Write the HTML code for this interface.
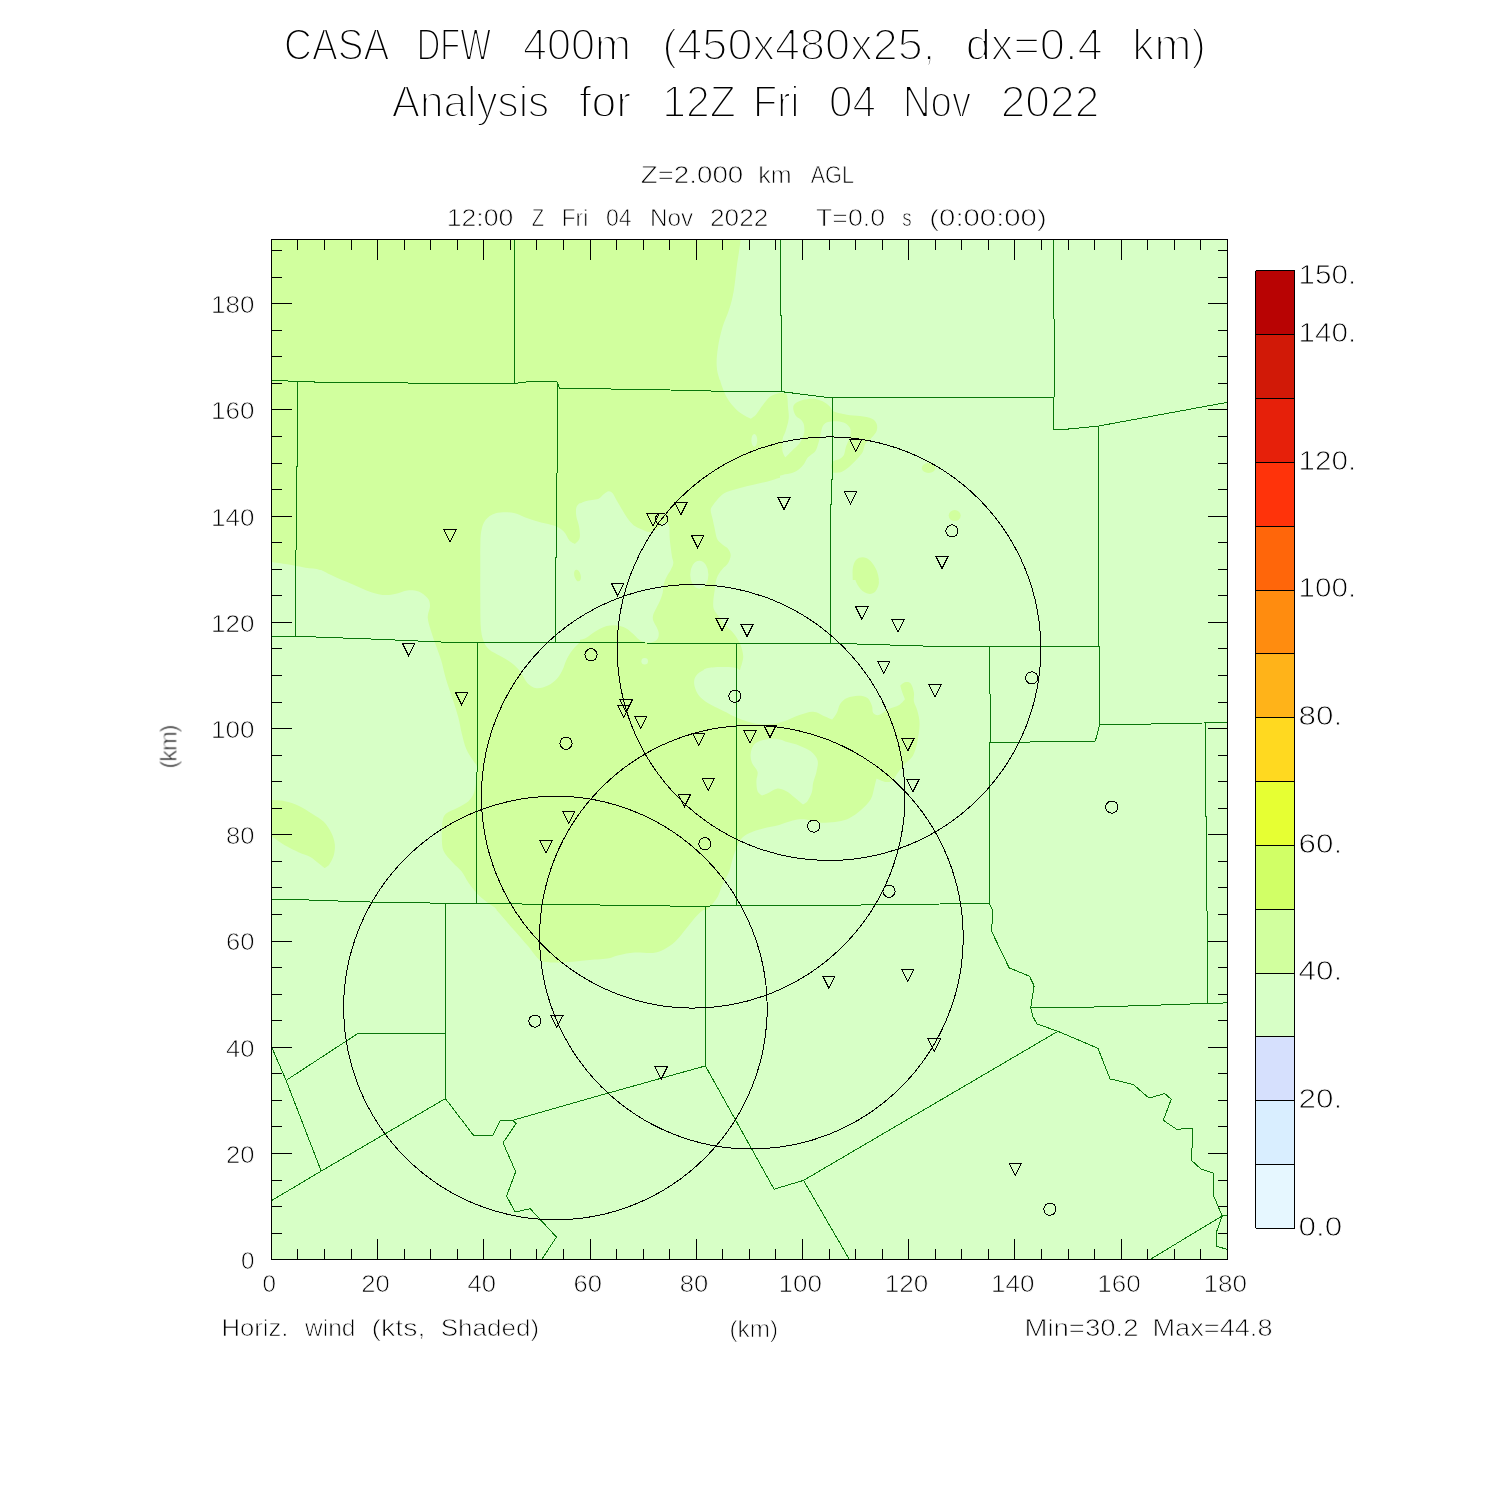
<!DOCTYPE html>
<html lang="en">
<head>
<meta charset="utf-8">
<title>CASA DFW 400m - Horiz. wind analysis</title>
<style>
html,body{margin:0;padding:0;background:#fff;}
body{width:1500px;height:1500px;overflow:hidden;}
svg{display:block;}
svg text{font-family:'Liberation Sans', Arial, Helvetica, sans-serif;fill:#000;stroke:#fff;}
.t1{stroke-width:1.9px;}
.t2{stroke-width:0.75px;}
.t3{stroke-width:0.85px;}
</style>
</head>
<body>
<svg width="1500" height="1500" viewBox="0 0 1500 1500">
<defs>
<clipPath id="c1"><rect x="271" y="239" width="329" height="331"/></clipPath>
<clipPath id="c2"><rect x="600" y="239" width="340" height="331"/></clipPath>
<clipPath id="c3"><rect x="271" y="570" width="329" height="340"/></clipPath>
<clipPath id="c4"><rect x="600" y="570" width="340" height="340"/></clipPath>
<clipPath id="c5"><rect x="460" y="910" width="340" height="120"/></clipPath>
<clipPath id="c6"><rect x="700" y="380" width="200" height="200"/></clipPath>
<clipPath id="c7"><rect x="580" y="470" width="200" height="200"/></clipPath>
<clipPath id="plot"><rect x="271.5" y="239.5" width="956.0" height="1019.8"/></clipPath>
</defs>
<rect width="1500" height="1500" fill="#fff"/>
<rect x="271.5" y="239.5" width="956.0" height="1019.8" fill="#D7FFC6"/>
<g clip-path="url(#plot)">
<g clip-path="url(#c1)">
<rect x="271" y="239" width="329" height="331" fill="#D1FF9E"/>
<path d="M266.8,561.4C266.8,561.4 269.7,561.8 271.6,562.0C275.0,562.5 281.6,563.4 287.2,564.3C292.8,565.3 299.7,566.7 305.3,567.7C311.0,568.8 317.4,568.0 321.2,570.7C325.0,573.3 328.0,583.6 328.0,583.6C328.0,583.6 266.8,583.6 266.8,583.6C266.8,583.6 266.8,561.4 266.8,561.4Z" fill="#D7FFC6"/>
<path d="M480.3,583.6C480.3,583.6 480.3,575.4 480.3,570.0C480.3,563.9 480.2,553.7 480.3,547.3C480.5,541.0 480.3,536.0 481.2,531.5C482.1,526.9 483.1,523.1 485.5,520.1C487.9,517.1 491.0,514.5 495.7,513.3C500.4,512.1 508.6,512.0 513.9,512.9C519.1,513.7 522.9,516.7 527.5,518.3C532.0,519.9 536.5,521.1 541.1,522.4C545.6,523.6 550.9,524.3 554.7,525.8C558.4,527.3 561.3,529.0 563.7,531.5C566.2,533.9 567.5,538.4 569.4,540.5C571.2,542.5 575.0,543.9 575.0,543.9C575.0,543.9 578.9,541.1 579.6,538.3C580.3,535.4 579.7,530.7 579.1,526.9C578.6,523.1 576.5,519.2 576.2,515.6C575.9,512.0 575.6,507.8 577.3,505.4C579.0,502.9 582.4,501.7 586.4,500.9C592.4,499.5 613.6,497.5 613.6,497.5C613.6,497.5 613.6,583.6 613.6,583.6C613.6,583.6 480.3,583.6 480.3,583.6Z" fill="#D7FFC6"/>
</g>
<g clip-path="url(#c2)">
<rect x="600" y="239" width="340" height="331" fill="#D7FFC6"/>
<path d="M588.7,218.7C588.7,218.7 740.5,218.7 740.5,218.7C740.5,218.7 741.1,232.0 740.5,239.5C740.0,247.1 738.3,255.4 737.1,264.0C736.0,272.6 735.0,283.6 733.7,291.2C732.4,298.6 731.1,303.3 729.2,309.3C727.3,315.4 724.3,321.0 722.4,327.5C720.5,333.9 718.8,341.4 717.9,347.9C716.9,354.3 716.4,360.6 716.7,366.0C717.0,371.4 718.0,374.5 719.7,380.0C721.4,385.7 726.9,400.0 726.9,400.0C726.9,400.0 726.9,583.6 726.9,583.6C726.9,583.6 588.7,583.6 588.7,583.6C588.7,583.6 588.7,218.7 588.7,218.7Z" fill="#D1FF9E"/>
<ellipse cx="928.6" cy="468.0" rx="6.8" ry="5.0" fill="#D1FF9E"/>
</g>
<g clip-path="url(#c3)">
<rect x="271" y="570" width="329" height="340" fill="#D7FFC6"/>
<path d="M321.2,558.7C321.2,558.7 321.2,570.0 321.2,570.0C321.2,570.0 329.9,574.5 334.8,576.8C339.7,579.1 345.4,581.3 350.7,583.6C356.0,585.9 361.2,588.5 366.5,590.4C371.8,592.3 377.5,594.4 382.4,594.9C387.3,595.5 391.8,594.6 396.0,593.8C400.1,593.0 403.5,590.8 407.3,590.4C411.1,590.0 415.3,590.2 418.7,591.5C422.1,592.9 425.8,595.9 427.7,598.3C429.6,600.8 430.0,603.1 430.0,606.3C430.0,609.5 427.5,613.4 427.7,617.6C427.9,621.8 429.8,626.7 431.1,631.2C432.4,635.7 434.0,639.9 435.7,644.8C437.4,649.7 439.6,655.0 441.3,660.7C443.0,666.3 444.0,672.4 445.9,678.8C447.7,685.2 450.6,692.8 452.7,699.2C454.7,705.6 456.8,711.7 458.3,717.3C459.8,723.0 460.4,727.9 461.7,733.2C463.0,738.5 464.4,744.5 466.3,749.1C468.1,753.6 471.2,757.4 473.1,760.4C474.7,763.1 476.6,764.2 477.1,767.2C477.7,770.2 476.9,774.4 476.5,778.5C476.0,782.7 475.5,788.3 474.2,792.1C472.9,795.9 471.4,798.5 468.5,801.2C465.7,803.8 461.0,805.9 457.2,808.0C453.4,810.1 448.3,811.4 445.9,813.7C443.4,815.9 443.0,818.2 442.5,821.6C441.8,825.6 441.6,832.5 441.8,837.5C442.0,842.4 441.8,846.9 443.6,851.1C445.4,855.2 449.6,859.0 452.7,862.4C455.7,865.8 459.1,868.1 461.7,871.5C464.4,874.9 465.9,879.0 468.5,882.8C471.2,886.6 474.6,890.9 477.6,894.1C480.6,897.3 483.4,899.4 486.7,902.0C489.9,904.7 494.6,906.4 496.9,910.0C499.1,913.6 500.3,923.6 500.3,923.6C500.3,923.6 613.6,923.6 613.6,923.6C613.6,923.6 613.6,626.7 613.6,626.7C613.6,626.7 604.5,627.7 600.0,629.4C595.4,631.1 590.5,633.9 586.4,636.9C582.2,639.8 578.3,643.5 575.0,647.1C571.8,650.7 569.2,654.6 567.1,658.4C565.0,662.2 564.3,666.3 562.6,669.7C560.9,673.1 559.4,676.1 556.9,678.8C554.5,681.4 551.3,684.0 547.9,685.6C544.5,687.2 539.9,688.7 536.5,688.3C533.1,687.9 530.1,686.0 527.5,683.3C524.8,680.6 523.3,675.4 520.7,672.0C518.0,668.6 515.0,665.6 511.6,662.9C508.2,660.3 504.0,658.4 500.3,656.1C496.5,653.9 491.8,652.0 488.9,649.3C486.1,646.7 484.6,644.0 483.3,640.3C481.9,636.5 481.1,632.2 480.8,626.7C480.3,619.5 480.4,606.6 480.3,597.2C480.2,587.8 480.3,576.4 480.3,570.0C480.3,565.5 480.3,558.7 480.3,558.7C480.3,558.7 321.2,558.7 321.2,558.7Z" fill="#D1FF9E"/>
<path d="M266.8,799.4C266.8,799.4 269.6,799.9 271.6,800.1C274.6,800.4 280.4,800.2 284.9,801.2C289.4,802.1 294.0,803.6 298.5,805.7C303.1,807.8 308.0,811.0 312.1,813.7C316.3,816.3 320.3,818.4 323.5,821.6C326.7,824.8 329.5,829.1 331.4,832.9C333.3,836.7 334.4,840.5 334.8,844.3C335.2,848.0 334.6,852.2 333.7,855.6C332.7,859.0 330.6,862.6 329.1,864.7C327.8,866.5 324.6,868.1 324.6,868.1C324.6,868.1 321.2,865.3 318.9,863.5C316.5,861.6 313.3,858.6 309.9,856.7C306.5,854.8 302.3,853.9 298.5,852.2C294.8,850.5 290.6,848.4 287.2,846.5C283.8,844.6 280.7,842.6 278.1,840.9C275.5,839.2 273.4,837.3 271.6,836.3C269.8,835.4 266.8,835.2 266.8,835.2C266.8,835.2 266.8,799.4 266.8,799.4Z" fill="#D1FF9E"/>
</g>
<g clip-path="url(#c4)">
<rect x="600" y="570" width="340" height="340" fill="#D7FFC6"/>
<path d="M588.7,625.5C588.7,625.5 595.8,625.7 600.0,625.5C604.2,625.3 609.4,623.8 613.6,624.4C617.8,625.0 621.5,626.7 624.9,628.9C628.3,631.2 630.6,635.7 634.0,638.0C637.4,640.3 641.7,642.5 645.3,642.5C648.9,642.5 653.3,639.9 655.5,638.0C657.8,636.1 659.1,634.2 658.9,631.2C658.7,628.2 655.3,623.3 654.4,619.9C653.5,616.5 652.3,614.2 653.3,610.8C654.2,607.4 658.4,604.0 660.1,599.5C661.8,594.9 662.1,587.8 663.5,583.6C664.7,579.7 666.6,578.3 668.0,574.5C669.5,570.4 672.5,558.7 672.5,558.7C672.5,558.7 690.7,558.7 690.7,558.7C690.7,558.7 690.7,574.0 691.8,579.1C692.8,583.6 697.5,589.3 697.5,589.3C697.5,589.3 703.3,587.9 705.4,585.9C707.5,583.8 709.1,580.8 709.9,576.8C710.9,572.3 711.1,558.7 711.1,558.7C711.1,558.7 717.9,558.7 717.9,558.7C717.9,558.7 715.2,580.6 714.5,588.1C713.8,594.5 712.8,599.5 713.3,604.0C713.9,608.5 715.8,611.7 717.9,615.3C719.9,618.9 723.1,622.5 725.8,625.5C728.4,628.6 731.3,630.3 733.7,633.5C736.2,636.7 738.9,641.0 740.5,644.8C742.1,648.6 743.2,652.7 743.2,656.1C743.2,659.5 741.7,662.9 740.5,665.2C739.3,667.5 738.3,669.3 736.0,669.7C733.7,670.2 730.3,668.3 726.9,667.9C723.5,667.5 719.4,667.2 715.6,667.5C711.8,667.8 707.5,668.4 704.3,669.7C701.1,671.1 698.0,673.1 696.3,675.4C694.6,677.7 693.9,680.3 694.1,683.3C694.3,686.3 695.6,690.5 697.5,693.5C699.4,696.5 702.0,699.0 705.4,701.5C708.8,703.9 713.9,706.2 717.9,708.3C721.8,710.3 726.2,712.4 729.2,713.9C731.9,715.3 733.2,716.2 736.0,717.3C739.0,718.6 743.5,720.3 747.3,721.4C751.1,722.5 754.5,723.7 758.7,724.1C762.8,724.6 767.7,724.7 772.3,724.1C776.8,723.6 781.3,722.2 785.9,720.7C790.4,719.2 794.9,716.6 799.5,715.1C804.0,713.5 808.9,711.5 813.1,711.7C817.2,711.8 821.2,714.9 824.4,716.2C827.6,717.5 832.3,719.6 832.3,719.6C832.3,719.6 835.5,715.4 836.9,712.8C838.2,710.1 838.6,706.2 840.3,703.7C842.0,701.3 844.0,699.4 847.1,698.1C850.1,696.7 855.0,695.8 858.4,695.8C861.8,695.8 865.2,696.4 867.5,698.1C869.7,699.8 871.0,703.5 872.0,706.0C872.9,708.4 872.0,711.3 873.1,712.8C874.3,714.3 876.4,715.6 878.8,715.1C881.2,714.5 884.5,711.1 887.9,709.4C891.3,707.7 896.4,706.6 899.2,704.9C901.9,703.2 904.9,699.2 904.9,699.2C904.9,699.2 902.2,692.4 901.5,690.1C900.9,688.4 900.3,685.6 900.3,685.6C900.3,685.6 903.2,682.6 904.9,682.2C906.6,681.8 909.0,681.6 910.5,683.3C912.0,685.0 913.3,689.4 913.9,692.4C914.5,695.4 913.3,698.4 913.9,701.5C914.5,704.5 916.4,706.8 917.3,710.5C918.3,714.3 919.6,718.8 919.6,724.1C919.6,729.4 918.4,737.0 917.3,742.3C916.2,747.5 915.0,752.1 912.8,755.9C910.5,759.6 906.4,761.9 903.7,764.9C901.1,767.9 898.8,771.3 896.9,774.0C895.0,776.6 894.3,779.5 892.4,780.8C890.5,782.1 888.2,782.3 885.6,781.9C882.9,781.5 876.5,778.5 876.5,778.5C876.5,778.5 875.2,784.2 874.3,787.6C873.3,791.0 873.1,795.1 870.9,798.9C868.6,802.7 864.2,807.0 860.7,810.3C857.1,813.5 853.1,816.3 849.3,818.2C845.5,820.1 842.5,820.8 838.0,821.6C833.5,822.3 827.8,823.1 822.1,822.7C816.5,822.3 808.9,819.7 804.0,819.3C799.4,819.0 796.8,819.5 792.7,820.5C788.5,821.4 784.0,823.7 779.1,825.0C774.1,826.3 768.1,827.1 763.2,828.4C758.3,829.7 753.4,831.0 749.6,832.9C745.8,834.8 743.1,836.0 740.5,839.7C737.9,843.5 735.6,850.3 733.7,855.6C731.8,860.9 731.1,866.5 729.2,871.5C727.3,876.4 724.3,880.9 722.4,885.0C720.5,889.2 719.7,893.0 717.9,896.4C716.0,899.8 712.9,903.2 711.1,905.4C709.4,907.4 707.7,907.7 706.5,910.0C705.0,913.0 702.0,923.6 702.0,923.6C702.0,923.6 588.7,923.6 588.7,923.6C588.7,923.6 588.7,625.5 588.7,625.5Z" fill="#D1FF9E"/>
<path d="M750.7,753.6C751.1,750.6 752.0,746.8 754.1,744.5C756.2,742.3 759.4,740.9 763.2,740.0C767.0,739.0 772.6,738.5 776.8,738.9C780.9,739.2 784.3,741.1 788.1,742.3C791.9,743.4 795.7,744.1 799.5,745.7C803.2,747.2 807.8,748.9 810.8,751.3C813.8,753.8 816.6,757.0 817.6,760.4C818.5,763.8 817.2,767.9 816.5,771.7C815.7,775.5 813.8,779.7 813.1,783.1C812.3,786.5 812.9,789.1 811.9,792.1C811.0,795.1 808.9,799.1 807.4,801.2C806.1,803.0 802.9,804.6 802.9,804.6C802.9,804.6 797.8,800.1 794.9,797.8C792.1,795.5 788.9,792.5 785.9,791.0C782.8,789.5 779.8,788.3 776.8,788.7C773.8,789.1 770.2,792.1 767.7,793.3C765.5,794.3 762.1,795.5 762.1,795.5C762.1,795.5 758.4,793.4 757.5,791.0C756.6,788.5 756.4,784.0 756.4,780.8C756.4,777.6 758.3,774.7 757.5,771.7C756.8,768.7 753.0,765.7 751.9,762.7C750.7,759.6 750.3,756.6 750.7,753.6Z" fill="#D7FFC6"/>
<ellipse cx="644.2" cy="661.8" rx="3.4" ry="3.4" fill="#D7FFC6"/>
<path d="M852.7,565.5C852.7,565.5 853.7,575.1 855.0,579.1C856.3,583.0 858.4,586.8 860.7,589.3C862.9,591.7 866.1,593.4 868.6,593.8C871.0,594.2 873.7,593.2 875.4,591.5C877.1,589.8 878.4,586.4 878.8,583.6C879.2,580.8 878.2,577.6 877.7,574.5C877.1,571.5 875.4,565.5 875.4,565.5C875.4,565.5 852.7,565.5 852.7,565.5Z" fill="#D1FF9E"/>
</g>
<g clip-path="url(#c5)">
<rect x="460" y="910" width="340" height="120" fill="#D7FFC6"/>
<path d="M448.7,848.7C448.7,848.7 732.0,848.7 732.0,848.7C732.0,848.7 733.0,855.6 732.0,860.0C730.9,864.9 727.5,872.5 725.2,878.1C722.9,883.8 721.0,889.5 718.4,894.0C715.7,898.5 712.7,901.9 709.3,905.3C705.9,908.7 701.8,910.6 698.0,914.4C694.2,918.2 690.4,923.5 686.7,928.0C682.9,932.5 679.1,938.0 675.3,941.6C671.5,945.2 667.8,947.6 664.0,949.5C660.2,951.4 657.4,952.5 652.7,952.9C647.7,953.4 640.2,952.1 634.5,952.5C628.9,952.9 623.2,954.2 618.7,955.2C614.1,956.2 612.0,957.9 607.3,958.6C602.0,959.4 593.3,959.6 586.9,960.2C580.5,960.7 574.8,961.6 568.8,962.0C562.8,962.4 555.6,962.8 550.7,962.4C546.0,962.1 543.1,962.4 539.3,959.7C535.6,957.0 532.5,951.4 528.0,946.1C523.5,940.8 517.4,934.0 512.1,928.0C506.8,922.0 501.2,915.2 496.3,909.9C491.4,904.6 487.2,901.2 482.7,896.3C478.1,891.4 472.8,885.3 469.1,880.4C465.3,875.5 463.4,871.0 460.0,866.8C456.6,862.6 450.6,858.5 448.7,855.5C447.2,853.2 448.7,848.7 448.7,848.7Z" fill="#D1FF9E"/>
</g>
<g clip-path="url(#c6)">
<rect x="700" y="380" width="200" height="200" fill="#D7FFC6"/>
<path d="M693.3,373.3C693.3,373.3 720.0,373.3 720.0,373.3C720.0,373.3 719.3,377.4 720.0,380.0C721.1,384.0 724.0,392.4 726.7,397.3C729.3,402.2 733.1,406.3 736.0,409.3C738.8,412.2 741.6,413.8 744.0,415.3C746.4,416.9 750.7,418.7 750.7,418.7C750.7,418.7 754.2,416.6 756.0,414.7C758.0,412.4 760.4,408.2 762.7,405.3C764.9,402.4 767.1,399.2 769.3,397.3C771.6,395.4 774.0,394.8 776.0,394.0C778.0,393.2 779.6,392.6 781.3,392.7C783.1,392.8 785.7,392.6 786.7,394.7C787.8,397.0 787.7,402.7 788.0,406.7C788.3,410.7 789.1,414.4 788.7,418.7C788.2,422.9 786.3,428.7 785.3,432.0C784.5,434.8 783.1,435.8 782.7,438.7C782.2,441.8 782.0,447.6 782.4,450.7C782.8,453.6 785.3,457.3 785.3,457.3C785.3,457.3 789.6,453.1 792.0,450.7C794.4,448.2 798.0,445.6 800.0,442.7C802.0,439.8 803.3,436.2 804.0,433.3C804.7,430.4 804.4,427.6 804.0,425.3C803.6,423.1 802.7,421.6 801.3,420.0C800.0,418.4 797.3,417.8 796.0,416.0C794.7,414.2 793.6,411.3 793.3,409.3C793.1,407.3 793.1,405.6 794.7,404.0C796.2,402.4 799.6,400.9 802.7,400.0C805.8,399.1 810.0,398.4 813.3,398.7C816.7,398.9 819.9,400.0 822.7,401.3C825.4,402.7 828.2,405.0 830.0,406.7C831.7,408.2 831.3,410.3 833.3,411.3C836.1,412.7 842.2,413.9 846.7,414.7C851.1,415.4 855.8,415.3 860.0,416.0C864.2,416.7 869.2,417.3 872.0,418.7C874.6,419.9 875.9,422.0 876.7,424.0C877.4,426.0 877.4,428.4 876.7,430.7C875.9,432.9 873.9,435.1 872.0,437.3C870.1,439.6 866.9,441.6 865.3,444.0C863.8,446.4 864.0,449.6 862.7,452.0C861.3,454.4 859.6,456.2 857.3,458.7C855.1,461.1 852.0,464.4 849.3,466.7C846.7,468.9 844.0,471.0 841.3,472.0C838.7,473.0 833.3,472.7 833.3,472.7C833.3,472.7 831.3,468.6 831.3,466.7C831.3,464.8 831.9,462.7 833.3,461.3C834.8,460.0 838.2,459.8 840.0,458.7C841.8,457.6 843.0,456.7 844.0,454.7C845.0,452.7 845.1,449.3 846.0,446.7C846.9,444.0 848.6,440.9 849.3,438.7C850.1,436.6 850.6,435.1 850.7,433.3C850.8,431.6 850.9,429.7 850.0,428.0C849.1,426.3 847.4,424.4 845.3,423.3C843.2,422.2 840.2,421.6 837.3,421.3C834.4,421.1 830.3,421.3 828.0,422.0C825.8,422.6 824.4,423.9 823.3,425.3C822.2,426.8 821.9,428.7 821.3,430.7C820.8,432.7 820.7,434.7 820.0,437.3C819.3,440.0 818.2,444.2 817.3,446.7C816.5,448.9 816.2,450.2 814.7,452.0C813.1,453.8 809.8,455.3 808.0,457.3C806.2,459.3 805.6,462.0 804.0,464.0C802.4,466.0 800.7,468.1 798.7,469.6C796.7,471.1 794.7,472.2 792.0,473.1C789.3,474.0 785.6,474.2 782.7,474.9C779.8,475.7 777.8,476.4 774.7,477.6C771.6,478.8 767.6,480.7 764.0,482.0C760.4,483.3 757.3,484.3 753.3,485.3C749.3,486.3 744.4,487.1 740.0,488.0C735.6,488.9 730.0,489.3 726.7,490.7C723.5,491.9 722.2,493.8 720.0,496.0C717.8,498.2 714.9,501.8 713.3,504.0C712.0,506.0 710.9,507.1 710.7,509.3C710.4,511.6 711.3,514.4 712.0,517.3C712.7,520.2 713.8,523.3 714.7,526.7C715.6,530.0 715.8,534.4 717.3,537.3C718.9,540.2 721.9,541.8 724.0,544.0C726.1,546.2 728.9,548.2 730.0,550.7C731.1,553.1 731.2,556.0 730.7,558.7C730.1,561.3 728.4,564.2 726.7,566.7C724.9,569.1 721.8,571.1 720.0,573.3C718.2,575.6 716.9,577.6 716.0,580.0C715.1,582.4 714.7,588.0 714.7,588.0C714.7,588.0 693.3,588.0 693.3,588.0C693.3,588.0 693.3,373.3 693.3,373.3Z" fill="#D1FF9E"/>
<path d="M693.3,558.7C693.3,558.7 698.0,558.4 700.0,559.3C702.0,560.2 704.0,562.1 705.3,564.0C706.7,565.9 707.8,568.0 708.0,570.7C708.2,573.3 707.0,577.1 706.7,580.0C706.3,582.9 706.0,588.0 706.0,588.0C706.0,588.0 693.3,588.0 693.3,588.0C693.3,588.0 693.3,558.7 693.3,558.7Z" fill="#D7FFC6"/>
<ellipse cx="754.3" cy="440.3" rx="2.9" ry="6.4" fill="#D7FFC6"/>
<path d="M853.3,588.0C853.3,588.0 852.2,574.0 852.7,569.3C853.0,565.4 854.3,562.0 856.0,560.0C857.7,558.0 860.4,557.3 862.7,557.3C864.9,557.3 867.3,558.4 869.3,560.0C871.3,561.6 873.2,564.2 874.7,566.7C876.1,569.1 877.2,571.3 878.0,574.7C878.9,578.2 880.0,588.0 880.0,588.0C880.0,588.0 853.3,588.0 853.3,588.0Z" fill="#D1FF9E"/>
</g>
<g clip-path="url(#c7)">
<rect x="580" y="470" width="200" height="200" fill="#D1FF9E"/>
<path d="M573.3,503.3C573.3,503.3 578.0,503.7 580.0,503.3C582.0,503.0 583.3,501.9 585.3,501.3C587.3,500.8 589.8,500.4 592.0,500.0C594.2,499.6 596.7,499.7 598.7,498.7C600.7,497.7 602.3,495.2 604.0,494.0C605.7,492.8 607.2,491.4 608.7,491.3C610.1,491.2 611.5,492.0 612.7,493.3C613.9,494.7 614.8,497.2 616.0,499.3C617.2,501.4 618.6,503.6 620.0,506.0C621.4,508.4 623.1,511.6 624.7,514.0C626.2,516.4 627.7,518.7 629.3,520.7C631.0,522.7 632.7,524.6 634.7,526.0C636.7,527.4 638.9,528.3 641.3,529.3C643.8,530.3 646.7,532.1 649.3,532.0C652.0,531.9 655.1,530.1 657.3,528.7C659.6,527.2 661.0,524.3 662.7,523.3C664.3,522.4 667.3,522.7 667.3,522.7C667.3,522.7 669.0,525.3 669.3,527.3C669.7,529.7 669.4,533.3 669.6,536.7C669.8,540.0 670.3,544.0 670.7,547.3C671.1,550.7 671.6,554.0 672.0,556.7C672.4,559.3 673.6,561.1 673.3,563.3C673.1,565.6 671.8,567.8 670.7,570.0C669.6,572.2 667.8,574.4 666.7,576.7C665.6,578.9 664.7,580.7 664.0,583.3C663.3,586.0 663.3,589.8 662.7,592.7C662.0,595.6 661.1,598.0 660.0,600.7C658.9,603.3 657.2,606.2 656.0,608.7C654.8,611.1 653.5,613.3 653.1,615.3C652.6,617.3 652.7,618.7 653.3,620.7C653.9,622.7 655.8,625.3 656.7,627.3C657.6,629.3 658.4,630.9 658.7,632.7C658.9,634.4 658.7,636.6 658.0,638.0C657.3,639.4 656.1,640.6 654.7,641.3C653.2,642.1 651.1,642.6 649.3,642.7C647.6,642.8 645.8,642.6 644.0,642.0C642.2,641.4 640.4,640.7 638.7,639.3C636.9,638.0 635.3,635.8 633.3,634.0C631.3,632.2 628.9,630.0 626.7,628.7C624.4,627.3 622.2,626.6 620.0,626.0C617.8,625.4 615.6,625.3 613.3,625.3C611.1,625.3 608.9,625.4 606.7,626.0C604.4,626.6 602.2,627.6 600.0,628.7C597.8,629.8 595.3,631.3 593.3,632.7C591.3,634.0 589.8,635.6 588.0,636.7C586.2,637.8 585.0,638.7 582.7,639.3C580.2,640.0 573.3,640.7 573.3,640.7C573.3,640.7 573.3,503.3 573.3,503.3Z" fill="#D7FFC6"/>
<path d="M788.0,476.4C788.0,476.4 783.1,476.9 780.0,477.7C776.4,478.6 771.1,480.6 766.7,481.7C762.2,482.9 757.8,483.6 753.3,484.7C748.9,485.7 744.4,486.8 740.0,488.0C735.6,489.2 730.0,490.6 726.7,492.0C723.7,493.3 722.2,494.6 720.0,496.7C717.8,498.8 714.9,502.4 713.3,504.7C712.0,506.6 710.8,507.6 710.7,510.0C710.6,512.4 712.0,516.2 712.7,519.3C713.3,522.4 713.9,525.3 714.7,528.7C715.4,532.0 716.0,536.7 717.3,539.3C718.7,542.0 720.9,543.1 722.7,544.7C724.4,546.2 726.7,546.9 728.0,548.7C729.3,550.4 730.7,552.9 730.7,555.3C730.7,557.8 729.3,561.1 728.0,563.3C726.7,565.6 724.2,566.9 722.7,568.7C721.1,570.4 719.8,572.0 718.7,574.0C717.6,576.0 716.7,578.0 716.0,580.7C715.3,583.3 715.1,586.7 714.7,590.0C714.2,593.3 713.5,597.6 713.3,600.7C713.2,603.8 713.0,606.2 713.7,608.7C714.5,611.1 716.0,612.8 717.9,615.3C719.9,618.1 723.1,622.4 725.7,625.5C728.4,628.5 731.3,630.2 733.7,633.5C736.2,636.7 739.0,641.0 740.5,644.8C742.1,648.6 743.0,653.0 743.2,656.1C743.4,659.0 742.5,661.0 742.0,663.3C741.5,665.6 740.4,667.6 740.0,670.0C739.6,672.4 739.3,678.0 739.3,678.0C739.3,678.0 788.0,678.0 788.0,678.0C788.0,678.0 788.0,476.4 788.0,476.4Z" fill="#D7FFC6"/>
<ellipse cx="699.3" cy="574.7" rx="9.1" ry="14.0" fill="#D7FFC6"/>
<ellipse cx="644.7" cy="661.3" rx="3.3" ry="3.3" fill="#D7FFC6"/>
<path d="M700.0,678.0C700.0,678.0 702.0,671.9 703.3,670.3C704.6,668.7 706.1,668.6 708.0,668.1C709.9,667.6 712.0,667.4 714.7,667.2C717.3,667.0 720.9,667.0 724.0,667.1C727.1,667.1 730.9,667.1 733.3,667.5C735.6,667.8 737.4,667.7 738.7,669.5C739.9,671.2 740.7,678.0 740.7,678.0C740.7,678.0 700.0,678.0 700.0,678.0Z" fill="#D7FFC6"/>
</g>
<ellipse cx="954.7" cy="515.6" rx="6" ry="5.5" fill="#D1FF9E"/>
<ellipse cx="577.5" cy="575.5" rx="3.2" ry="6" transform="rotate(-15 577.5 575.5)" fill="#D1FF9E"/>
</g>
<g clip-path="url(#plot)" fill="none" stroke="#08760A" stroke-width="1" shape-rendering="crispEdges">
<path d="M514.5,239.5L514.5,383.5"/>
<path d="M271.5,380.3L286.0,380.8L297.4,381.9L407.4,382.6L409.6,383.5L514.4,383.5L521.9,382.5L531.0,381.5L556.5,381.5L558.2,384.2L559.5,388.3L600.0,388.2L614.7,389.3L670.3,390.0L727.0,391.4L781.3,391.6L826.7,397.3L832.3,397.7L940.0,397.5L1053.6,397.3"/>
<path d="M297.4,381.9L297.4,466.0L296.3,467.0L296.3,549.6L295.4,552.0L295.6,636.2"/>
<path d="M557.5,384.0L557.5,472.5L556.6,474.0L556.6,556.0L555.8,558.0L555.8,642.1"/>
<path d="M780.2,239.5L780.7,315.0L781.3,316.0L781.8,391.6"/>
<path d="M832.3,397.7L832.3,479.3L831.2,480.5L830.5,570.0L830.5,643.2"/>
<path d="M1053.6,239.5L1053.6,318.4L1054.5,319.5L1054.5,396.6L1053.6,397.3L1053.6,429.5L1063.5,429.5L1098.7,426.0L1227.5,402.3"/>
<path d="M1098.7,426.0L1098.7,646.0L1099.3,647.0L1099.8,724.1L1098.7,728.7L1095.3,741.1"/>
<path d="M271.5,636.4L295.6,636.2L323.5,637.3L373.3,639.1L427.7,641.4L452.7,642.5L477.6,642.5L555.8,642.1L600.0,642.3L645.3,643.0L736.0,643.7L830.5,643.2L883.3,644.8L940.0,646.5L989.4,646.6L1098.7,646.0"/>
<path d="M477.6,642.5L477.6,769.5L476.7,774.0L476.7,903.6"/>
<path d="M736.4,643.7L736.4,905.4"/>
<path d="M989.4,646.6L989.4,693.5L990.3,694.7L990.3,742.7L989.4,742.7L989.4,903.4L992.6,910.0L991.7,931.5L1009.1,967.8L1029.5,976.2L1034.1,985.9L1030.7,1007.9L1032.9,1016.5L1037.0,1024.0L1057.9,1031.3L1098.0,1048.3L1110.0,1078.9L1133.3,1084.5L1149.0,1098.1L1164.8,1093.6L1171.2,1099.3L1163.3,1120.3L1176.9,1129.4L1192.7,1128.0L1191.6,1160.5L1201.1,1169.1L1213.8,1173.4L1213.6,1195.6L1222.2,1216.0L1216.5,1231.9L1217.0,1246.6L1227.5,1249.3"/>
<path d="M989.4,742.7L1042.0,741.8L1095.3,741.1"/>
<path d="M1099.8,724.1L1150.8,724.1L1151.9,723.4L1204.0,723.0L1227.5,722.3"/>
<path d="M1205.2,723.0L1205.6,815.9L1206.5,817.0L1206.5,910.0L1207.5,912.0L1207.5,1003.4"/>
<path d="M271.5,899.1L316.7,900.2L359.7,901.8L405.1,902.7L445.4,903.2L476.7,903.6L554.7,904.3L600.0,905.0L629.5,905.9L705.4,906.1L736.4,905.4L860.7,905.0L940.0,904.0L989.4,903.5"/>
<path d="M445.4,903.2L445.4,1098.6"/>
<path d="M358.6,1033.5L445.4,1033.5"/>
<path d="M358.6,1033.0L286.1,1080.4"/>
<path d="M271.5,1046.7L286.1,1080.4L321.2,1171.1"/>
<path d="M445.4,1098.6L321.2,1171.1L271.5,1200.6"/>
<path d="M445.4,1098.6L473.5,1135.3L493.0,1135.3L500.3,1120.8L512.7,1120.3L600.0,1095.4L705.4,1065.9"/>
<path d="M512.7,1120.3L516.1,1123.5L503.0,1142.8L515.7,1171.8L506.6,1196.0L515.0,1212.1L530.2,1208.7L556.5,1237.1L547.9,1250.0L542.0,1259.0"/>
<path d="M705.4,906.0L705.4,1065.9"/>
<path d="M705.4,1065.9L774.1,1189.2L803.5,1180.4L940.0,1100.4L1057.9,1031.3"/>
<path d="M803.5,1180.4L849.1,1259.0"/>
<path d="M1030.7,1007.9L1064.7,1007.9L1171.2,1004.7L1207.5,1003.4L1227.5,1002.9"/>
<path d="M1227.5,1215.5L1222.2,1216.0L1150.8,1259.0"/>
</g>
<g fill="none" stroke="#000" stroke-width="1" shape-rendering="crispEdges">
<circle cx="829.0" cy="648.7" r="211.8"/>
<circle cx="693.2" cy="796.3" r="211.8"/>
<circle cx="555.4" cy="1008" r="211.8"/>
<circle cx="751.4" cy="937.2" r="211.8"/>
<path d="M849.5,439.0L861.9,439.0L855.7,451.4Z"/>
<path d="M844.3,491.3L856.7,491.3L850.5,503.7Z"/>
<path d="M777.8,497.2L790.2,497.2L784.0,509.6Z"/>
<path d="M674.7,502.3L687.1,502.3L680.9,514.7Z"/>
<path d="M646.9,513.8L659.3,513.8L653.1,526.2Z"/>
<path d="M691.4,535.4L703.8,535.4L697.6,547.8Z"/>
<path d="M443.7,529.5L456.1,529.5L449.9,541.9Z"/>
<path d="M935.8,556.2L948.2,556.2L942.0,568.6Z"/>
<path d="M611.5,583.5L623.9,583.5L617.7,595.9Z"/>
<path d="M855.6,606.7L868.0,606.7L861.8,619.1Z"/>
<path d="M891.8,619.7L904.2,619.7L898.0,632.1Z"/>
<path d="M715.8,618.2L728.2,618.2L722.0,630.6Z"/>
<path d="M740.8,624.2L753.2,624.2L747.0,636.6Z"/>
<path d="M402.5,643.5L414.9,643.5L408.7,655.9Z"/>
<path d="M877.6,661.4L890.0,661.4L883.8,673.8Z"/>
<path d="M928.8,684.9L941.2,684.9L935.0,697.3Z"/>
<path d="M455.5,692.5L467.9,692.5L461.7,704.9Z"/>
<path d="M619.9,699.9L632.3,699.9L626.1,712.3Z"/>
<path d="M617.6,705.2L630.0,705.2L623.8,717.6Z"/>
<path d="M634.6,716.4L647.0,716.4L640.8,728.8Z"/>
<path d="M692.6,733.1L705.0,733.1L698.8,745.5Z"/>
<path d="M743.8,730.8L756.2,730.8L750.0,743.2Z"/>
<path d="M763.8,725.1L776.2,725.1L770.0,737.5Z"/>
<path d="M901.6,738.5L914.0,738.5L907.8,750.9Z"/>
<path d="M702.1,778.2L714.5,778.2L708.3,790.6Z"/>
<path d="M678.1,794.5L690.5,794.5L684.3,806.9Z"/>
<path d="M906.6,779.5L919.0,779.5L912.8,791.9Z"/>
<path d="M562.5,811.3L574.9,811.3L568.7,823.7Z"/>
<path d="M539.8,840.4L552.2,840.4L546.0,852.8Z"/>
<path d="M822.7,976.0L835.1,976.0L828.9,988.4Z"/>
<path d="M901.6,969.4L914.0,969.4L907.8,981.8Z"/>
<path d="M550.7,1015.2L563.1,1015.2L556.9,1027.6Z"/>
<path d="M928.1,1038.8L940.5,1038.8L934.3,1051.2Z"/>
<path d="M655.0,1066.7L667.4,1066.7L661.2,1079.1Z"/>
<path d="M1009.0,1163.2L1021.4,1163.2L1015.2,1175.6Z"/>
<circle cx="661.6" cy="519.1" r="6.1"/>
<circle cx="952" cy="531" r="6.1"/>
<circle cx="591" cy="654.8" r="6.1"/>
<circle cx="1031.8" cy="677.9" r="6.1"/>
<circle cx="734.9" cy="696.2" r="6.1"/>
<circle cx="566" cy="743.2" r="6.1"/>
<circle cx="1111.8" cy="807.1" r="6.1"/>
<circle cx="813.7" cy="826.1" r="6.1"/>
<circle cx="704.9" cy="843.8" r="6.1"/>
<circle cx="889" cy="891.2" r="6.1"/>
<circle cx="534.9" cy="1021.1" r="6.1"/>
<circle cx="1049.9" cy="1209.2" r="6.1"/>
</g>
<g fill="none" stroke="#000" stroke-width="1" shape-rendering="crispEdges">
<path d="M271.5,1259.3v-20M271.5,239.5v20M297.5,1259.3v-10M297.5,239.5v10M324.5,1259.3v-10M324.5,239.5v10M351.5,1259.3v-10M351.5,239.5v10M377.5,1259.3v-20M377.5,239.5v20M404.5,1259.3v-10M404.5,239.5v10M430.5,1259.3v-10M430.5,239.5v10M457.5,1259.3v-10M457.5,239.5v10M483.5,1259.3v-20M483.5,239.5v20M510.5,1259.3v-10M510.5,239.5v10M536.5,1259.3v-10M536.5,239.5v10M563.5,1259.3v-10M563.5,239.5v10M590.5,1259.3v-20M590.5,239.5v20M616.5,1259.3v-10M616.5,239.5v10M643.5,1259.3v-10M643.5,239.5v10M669.5,1259.3v-10M669.5,239.5v10M696.5,1259.3v-20M696.5,239.5v20M722.5,1259.3v-10M722.5,239.5v10M749.5,1259.3v-10M749.5,239.5v10M775.5,1259.3v-10M775.5,239.5v10M802.5,1259.3v-20M802.5,239.5v20M829.5,1259.3v-10M829.5,239.5v10M855.5,1259.3v-10M855.5,239.5v10M882.5,1259.3v-10M882.5,239.5v10M908.5,1259.3v-20M908.5,239.5v20M935.5,1259.3v-10M935.5,239.5v10M961.5,1259.3v-10M961.5,239.5v10M988.5,1259.3v-10M988.5,239.5v10M1014.5,1259.3v-20M1014.5,239.5v20M1041.5,1259.3v-10M1041.5,239.5v10M1068.5,1259.3v-10M1068.5,239.5v10M1094.5,1259.3v-10M1094.5,239.5v10M1121.5,1259.3v-20M1121.5,239.5v20M1147.5,1259.3v-10M1147.5,239.5v10M1174.5,1259.3v-10M1174.5,239.5v10M1200.5,1259.3v-10M1200.5,239.5v10M1227.5,1259.3v-20M1227.5,239.5v20M271.5,1259.5h20M1227.5,1259.5h-20M271.5,1233.5h10M1227.5,1233.5h-10M271.5,1206.5h10M1227.5,1206.5h-10M271.5,1180.5h10M1227.5,1180.5h-10M271.5,1153.5h20M1227.5,1153.5h-20M271.5,1126.5h10M1227.5,1126.5h-10M271.5,1100.5h10M1227.5,1100.5h-10M271.5,1073.5h10M1227.5,1073.5h-10M271.5,1047.5h20M1227.5,1047.5h-20M271.5,1020.5h10M1227.5,1020.5h-10M271.5,994.5h10M1227.5,994.5h-10M271.5,967.5h10M1227.5,967.5h-10M271.5,941.5h20M1227.5,941.5h-20M271.5,914.5h10M1227.5,914.5h-10M271.5,887.5h10M1227.5,887.5h-10M271.5,861.5h10M1227.5,861.5h-10M271.5,834.5h20M1227.5,834.5h-20M271.5,808.5h10M1227.5,808.5h-10M271.5,781.5h10M1227.5,781.5h-10M271.5,755.5h10M1227.5,755.5h-10M271.5,728.5h20M1227.5,728.5h-20M271.5,702.5h10M1227.5,702.5h-10M271.5,675.5h10M1227.5,675.5h-10M271.5,648.5h10M1227.5,648.5h-10M271.5,622.5h20M1227.5,622.5h-20M271.5,595.5h10M1227.5,595.5h-10M271.5,569.5h10M1227.5,569.5h-10M271.5,542.5h10M1227.5,542.5h-10M271.5,516.5h20M1227.5,516.5h-20M271.5,489.5h10M1227.5,489.5h-10M271.5,463.5h10M1227.5,463.5h-10M271.5,436.5h10M1227.5,436.5h-10M271.5,409.5h20M1227.5,409.5h-20M271.5,383.5h10M1227.5,383.5h-10M271.5,356.5h10M1227.5,356.5h-10M271.5,330.5h10M1227.5,330.5h-10M271.5,303.5h20M1227.5,303.5h-20M271.5,277.5h10M1227.5,277.5h-10M271.5,250.5h10M1227.5,250.5h-10"/>
</g>
<rect x="271.5" y="239.5" width="956.0" height="1019.8" fill="none" stroke="#000" stroke-width="1.3" shape-rendering="crispEdges"/>
<rect x="1255.5" y="1164.56" width="39.0" height="64.14" fill="#E6F7FF"/>
<rect x="1255.5" y="1100.72" width="39.0" height="64.14" fill="#D9EEFF"/>
<rect x="1255.5" y="1036.88" width="39.0" height="64.14" fill="#D6E0FD"/>
<rect x="1255.5" y="973.04" width="39.0" height="64.14" fill="#D7FFC6"/>
<rect x="1255.5" y="909.20" width="39.0" height="64.14" fill="#D1FF9E"/>
<rect x="1255.5" y="845.36" width="39.0" height="64.14" fill="#D1FF66"/>
<rect x="1255.5" y="781.52" width="39.0" height="64.14" fill="#E6FF33"/>
<rect x="1255.5" y="717.68" width="39.0" height="64.14" fill="#FFD920"/>
<rect x="1255.5" y="653.84" width="39.0" height="64.14" fill="#FFB319"/>
<rect x="1255.5" y="590.00" width="39.0" height="64.14" fill="#FF8C0F"/>
<rect x="1255.5" y="526.16" width="39.0" height="64.14" fill="#FF660A"/>
<rect x="1255.5" y="462.32" width="39.0" height="64.14" fill="#FF330A"/>
<rect x="1255.5" y="398.48" width="39.0" height="64.14" fill="#E6200A"/>
<rect x="1255.5" y="334.64" width="39.0" height="64.14" fill="#D11907"/>
<rect x="1255.5" y="270.80" width="39.0" height="64.14" fill="#B80303"/>
<path d="M1255.5,1228.5H1294.5M1255.5,1164.5H1294.5M1255.5,1100.5H1294.5M1255.5,1036.5H1294.5M1255.5,973.5H1294.5M1255.5,909.5H1294.5M1255.5,845.5H1294.5M1255.5,781.5H1294.5M1255.5,717.5H1294.5M1255.5,653.5H1294.5M1255.5,590.5H1294.5M1255.5,526.5H1294.5M1255.5,462.5H1294.5M1255.5,398.5H1294.5M1255.5,334.5H1294.5M1255.5,270.5H1294.5M1255.5,270.8V1228.4M1294.5,270.8V1228.4" stroke="#000" stroke-width="1" fill="none" shape-rendering="crispEdges"/>
<g opacity="0.999">
<text class="t1" x="284.0" y="60.0" font-size="43.5" textLength="105.3" lengthAdjust="spacingAndGlyphs">CASA</text>
<text class="t1" x="416.7" y="60.0" font-size="43.5" textLength="74.3" lengthAdjust="spacingAndGlyphs">DFW</text>
<text class="t1" x="523.0" y="60.0" font-size="43.5" textLength="108.0" lengthAdjust="spacingAndGlyphs">400m</text>
<text class="t1" x="662.3" y="60.0" font-size="43.5" textLength="273.0" lengthAdjust="spacingAndGlyphs">(450x480x25,</text>
<text class="t1" x="965.7" y="60.0" font-size="43.5" textLength="137.0" lengthAdjust="spacingAndGlyphs">dx=0.4</text>
<text class="t1" x="1132.3" y="60.0" font-size="43.5" textLength="73.7" lengthAdjust="spacingAndGlyphs">km)</text>
<text class="t1" x="391.7" y="116.8" font-size="43.5" textLength="157.6" lengthAdjust="spacingAndGlyphs">Analysis</text>
<text class="t1" x="579.0" y="116.8" font-size="43.5" textLength="52.0" lengthAdjust="spacingAndGlyphs">for</text>
<text class="t1" x="662.3" y="116.8" font-size="43.5" textLength="73.7" lengthAdjust="spacingAndGlyphs">12Z</text>
<text class="t1" x="753.0" y="116.8" font-size="43.5" textLength="46.3" lengthAdjust="spacingAndGlyphs">Fri</text>
<text class="t1" x="829.0" y="116.8" font-size="43.5" textLength="47.0" lengthAdjust="spacingAndGlyphs">04</text>
<text class="t1" x="903.0" y="116.8" font-size="43.5" textLength="68.0" lengthAdjust="spacingAndGlyphs">Nov</text>
<text class="t1" x="1000.7" y="116.8" font-size="43.5" textLength="98.6" lengthAdjust="spacingAndGlyphs">2022</text>
<text class="t2" x="640.7" y="182.7" font-size="23.8" textLength="102.6" lengthAdjust="spacingAndGlyphs">Z=2.000</text>
<text class="t2" x="758.3" y="182.7" font-size="23.8" textLength="33.4" lengthAdjust="spacingAndGlyphs">km</text>
<text class="t2" x="810.7" y="182.7" font-size="23.8" textLength="43.3" lengthAdjust="spacingAndGlyphs">AGL</text>
<text class="t2" x="446.7" y="225.7" font-size="23.8" textLength="66.6" lengthAdjust="spacingAndGlyphs">12:00</text>
<text class="t2" x="531.7" y="225.7" font-size="23.8" textLength="12.3" lengthAdjust="spacingAndGlyphs">Z</text>
<text class="t2" x="561.7" y="225.7" font-size="23.8" textLength="26.6" lengthAdjust="spacingAndGlyphs">Fri</text>
<text class="t2" x="606.0" y="225.7" font-size="23.8" textLength="25.7" lengthAdjust="spacingAndGlyphs">04</text>
<text class="t2" x="650.0" y="225.7" font-size="23.8" textLength="43.3" lengthAdjust="spacingAndGlyphs">Nov</text>
<text class="t2" x="710.0" y="225.7" font-size="23.8" textLength="58.3" lengthAdjust="spacingAndGlyphs">2022</text>
<text class="t2" x="816.0" y="225.7" font-size="23.8" textLength="69.0" lengthAdjust="spacingAndGlyphs">T=0.0</text>
<text class="t2" x="902.3" y="225.7" font-size="23.8" textLength="9.4" lengthAdjust="spacingAndGlyphs">s</text>
<text class="t2" x="929.3" y="225.7" font-size="23.8" textLength="117.4" lengthAdjust="spacingAndGlyphs">(0:00:00)</text>
<text class="t2" x="262.4" y="1291.8" font-size="23.8" textLength="13.5" lengthAdjust="spacingAndGlyphs">0</text>
<text class="t2" x="361.2" y="1291.8" font-size="23.8" textLength="28.5" lengthAdjust="spacingAndGlyphs">20</text>
<text class="t2" x="467.4" y="1291.8" font-size="23.8" textLength="28.5" lengthAdjust="spacingAndGlyphs">40</text>
<text class="t2" x="573.6" y="1291.8" font-size="23.8" textLength="28.5" lengthAdjust="spacingAndGlyphs">60</text>
<text class="t2" x="679.8" y="1291.8" font-size="23.8" textLength="28.5" lengthAdjust="spacingAndGlyphs">80</text>
<text class="t2" x="778.6" y="1291.8" font-size="23.8" textLength="43.5" lengthAdjust="spacingAndGlyphs">100</text>
<text class="t2" x="884.8" y="1291.8" font-size="23.8" textLength="43.5" lengthAdjust="spacingAndGlyphs">120</text>
<text class="t2" x="991.0" y="1291.8" font-size="23.8" textLength="43.5" lengthAdjust="spacingAndGlyphs">140</text>
<text class="t2" x="1097.2" y="1291.8" font-size="23.8" textLength="43.5" lengthAdjust="spacingAndGlyphs">160</text>
<text class="t2" x="1203.4" y="1291.8" font-size="23.8" textLength="43.5" lengthAdjust="spacingAndGlyphs">180</text>
<text class="t2" x="241.1" y="1269.1" font-size="23.8" textLength="13.5" lengthAdjust="spacingAndGlyphs">0</text>
<text class="t2" x="226.1" y="1162.9" font-size="23.8" textLength="28.5" lengthAdjust="spacingAndGlyphs">20</text>
<text class="t2" x="226.1" y="1056.7" font-size="23.8" textLength="28.5" lengthAdjust="spacingAndGlyphs">40</text>
<text class="t2" x="226.1" y="950.4" font-size="23.8" textLength="28.5" lengthAdjust="spacingAndGlyphs">60</text>
<text class="t2" x="226.1" y="844.2" font-size="23.8" textLength="28.5" lengthAdjust="spacingAndGlyphs">80</text>
<text class="t2" x="211.1" y="738.0" font-size="23.8" textLength="43.5" lengthAdjust="spacingAndGlyphs">100</text>
<text class="t2" x="211.1" y="631.8" font-size="23.8" textLength="43.5" lengthAdjust="spacingAndGlyphs">120</text>
<text class="t2" x="211.1" y="525.5" font-size="23.8" textLength="43.5" lengthAdjust="spacingAndGlyphs">140</text>
<text class="t2" x="211.1" y="419.3" font-size="23.8" textLength="43.5" lengthAdjust="spacingAndGlyphs">160</text>
<text class="t2" x="211.1" y="313.1" font-size="23.8" textLength="43.5" lengthAdjust="spacingAndGlyphs">180</text>
<text class="t2" x="221.5" y="1336" font-size="23.8" textLength="67.0" lengthAdjust="spacingAndGlyphs">Horiz.</text>
<text class="t2" x="305.1" y="1336" font-size="23.8" textLength="50.4" lengthAdjust="spacingAndGlyphs">wind</text>
<text class="t2" x="371.5" y="1336" font-size="23.8" textLength="53.8" lengthAdjust="spacingAndGlyphs">(kts,</text>
<text class="t2" x="440.7" y="1336" font-size="23.8" textLength="98.4" lengthAdjust="spacingAndGlyphs">Shaded)</text>
<text class="t2" x="729.5" y="1336.6" font-size="23.8" textLength="48.5" lengthAdjust="spacingAndGlyphs">(km)</text>
<text class="t2" x="1024.5" y="1336" font-size="23.8" textLength="114.0" lengthAdjust="spacingAndGlyphs">Min=30.2</text>
<text class="t2" x="1152.5" y="1336" font-size="23.8" textLength="120.0" lengthAdjust="spacingAndGlyphs">Max=44.8</text>
<text class="t2" transform="translate(176.5,768.5) rotate(-90)" font-size="23.8" textLength="44" lengthAdjust="spacing">(km)</text>
<text class="t3" x="1298.6" y="1235.7" font-size="27.5" textLength="43.7" lengthAdjust="spacingAndGlyphs">0.0</text>
<text class="t3" x="1298.6" y="1108.0" font-size="27.5" textLength="43.7" lengthAdjust="spacingAndGlyphs">20.</text>
<text class="t3" x="1298.6" y="980.3" font-size="27.5" textLength="43.7" lengthAdjust="spacingAndGlyphs">40.</text>
<text class="t3" x="1298.6" y="852.7" font-size="27.5" textLength="43.7" lengthAdjust="spacingAndGlyphs">60.</text>
<text class="t3" x="1298.6" y="725.0" font-size="27.5" textLength="43.7" lengthAdjust="spacingAndGlyphs">80.</text>
<text class="t3" x="1298.6" y="597.3" font-size="27.5" textLength="57.7" lengthAdjust="spacingAndGlyphs">100.</text>
<text class="t3" x="1298.6" y="469.6" font-size="27.5" textLength="57.7" lengthAdjust="spacingAndGlyphs">120.</text>
<text class="t3" x="1298.6" y="341.9" font-size="27.5" textLength="57.7" lengthAdjust="spacingAndGlyphs">140.</text>
<text class="t3" x="1298.6" y="283.7" font-size="27.5" textLength="57.7" lengthAdjust="spacingAndGlyphs">150.</text>
</g>
</svg>
</body>
</html>
